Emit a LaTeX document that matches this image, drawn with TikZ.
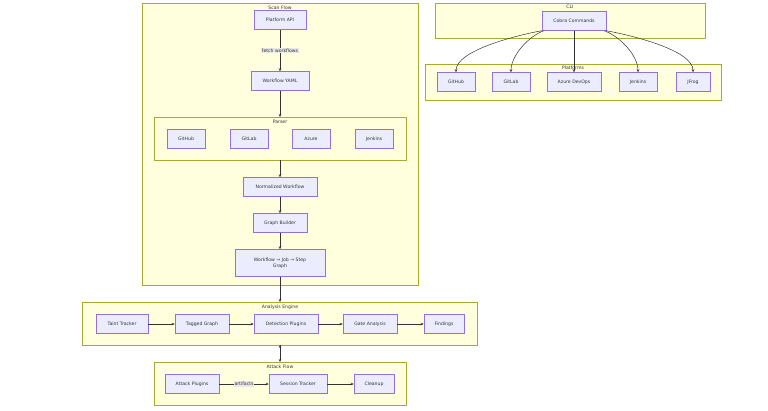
\documentclass[tikz,border=0pt]{standalone}
\usepackage{fontspec}
\setmainfont{DejaVu Sans}
\usetikzlibrary{arrows.meta,positioning}
\definecolor{grpfill}{HTML}{FFFFDE}
\definecolor{grpline}{HTML}{AAAA33}
\definecolor{boxfill}{HTML}{ECECFF}
\definecolor{boxline}{HTML}{9370DB}
\definecolor{edgecol}{HTML}{333333}
\definecolor{lblfill}{HTML}{E8E8E8}
\begin{document}
\begin{tikzpicture}[x=1pt,y=-1pt,>={Stealth[length=3pt,width=2.5pt]},
                    font=\fontsize{4.6}{5.6}\selectfont, text=edgecol,
                    grp/.style={draw=grpline, fill=grpfill, line width=0.5pt},
                    stepp/.style={rectangle, minimum height=19pt, inner sep=2pt, text centered, draw=boxline, fill=boxfill, line width=0.5pt},
                    lbl/.style={fill=lblfill, inner sep=1pt},
                    flow/.style={->, draw=edgecol, line width=0.5pt}]
        \useasboundingbox (0,0) rectangle (768,410);
        % groups
        \draw[grp] (142,3) rectangle (418,285);
        \node at (280,8) {Scan Flow};
        \draw[grp] (154,117) rectangle (406,160);
        \node at (280,122) {Parser};
        \draw[grp] (82,302) rectangle (477,345);
        \node at (280,307) {Analysis Engine};
        \draw[grp] (154,362) rectangle (406,405);
        \node at (280,367) {Attack Flow};
        \draw[grp] (435,3) rectangle (705,38);
        \node at (570,7) {CLI};
        \draw[grp] (425,64) rectangle (721,100);
        \node at (573,68) {Platforms};
        \coordinate (ParserTop) at (280,117);
        \coordinate (ParserBot) at (280,160);
        \coordinate (EngineTop) at (280,302);
        \coordinate (EngineBot) at (280,345);
        \coordinate (AttackTop) at (280,362);

        % scan flow
        \node (PlatformAPI) [stepp, minimum width=52pt] at (280,20) {Platform API};
        \node (WorkflowYAML) [stepp, minimum width=58pt] at (280,81) {Workflow YAML};
        \node (PGitHub) [stepp, minimum width=38pt] at (186,139) {GitHub};
        \node (PGitLab) [stepp, minimum width=38pt] at (249,139) {GitLab};
        \node (PAzure) [stepp, minimum width=38pt] at (311,139) {Azure};
        \node (PJenkins) [stepp, minimum width=38pt] at (374,139) {Jenkins};
        \node (Normalized) [stepp, minimum width=74pt] at (280,187) {Normalized Workflow};
        \node (Builder) [stepp, minimum width=54pt] at (280,223) {Graph Builder};
        \node (Graph) [stepp, minimum width=90pt, minimum height=27pt, align=center] at (280,263) {Workflow → Job → Step\\Graph};

        % analysis engine
        \node (Taint) [stepp, minimum width=52pt] at (122,324) {Taint Tracker};
        \node (Tagged) [stepp, minimum width=54pt] at (202,324) {Tagged Graph};
        \node (Detection) [stepp, minimum width=64pt] at (286,324) {Detection Plugins};
        \node (Gate) [stepp, minimum width=54pt] at (370,324) {Gate Analysis};
        \node (Findings) [stepp, minimum width=40pt] at (444,324) {Findings};

        % attack flow
        \node (AttackPlugins) [stepp, minimum width=54pt] at (192,384) {Attack Plugins};
        \node (Session) [stepp, minimum width=58pt] at (298,384) {Session Tracker};
        \node (Cleanup) [stepp, minimum width=40pt] at (374,384) {Cleanup};

        % cli and platforms
        \node (Cobra) [stepp, minimum width=64pt] at (574,21) {Cobra Commands};
        \node (GitHub) [stepp, minimum width=38pt] at (456,82) {GitHub};
        \node (GitLab) [stepp, minimum width=38pt] at (511,82) {GitLab};
        \node (AzureDevOps) [stepp, minimum width=54pt] at (574,82) {Azure DevOps};
        \node (Jenkins) [stepp, minimum width=38pt] at (638,82) {Jenkins};
        \node (JFrog) [stepp, minimum width=34pt] at (693,82) {JFrog};

        \path[flow]
        (PlatformAPI) edge node[lbl] {fetch workflows} (WorkflowYAML)
        (WorkflowYAML) edge (ParserTop)
        (ParserBot) edge (Normalized)
        (Normalized) edge (Builder)
        (Builder) edge (Graph)
        (Graph) edge (EngineTop)
        (EngineBot) edge (AttackTop)
        (Taint) edge (Tagged)
        (Tagged) edge (Detection)
        (Detection) edge (Gate)
        (Gate) edge (Findings)
        (AttackPlugins) edge node[lbl] {artifacts} (Session)
        (Session) edge (Cleanup)
        (Cobra) edge (AzureDevOps)
        ;
        \draw[flow] (Cobra.south west) to[out=190,in=90,looseness=0.6] (GitHub.north);
        \draw[flow] (Cobra.south west) ++(2,0) to[out=200,in=90,looseness=0.8] (GitLab.north);
        \draw[flow] (Cobra.south east) ++(-2,0) to[out=-20,in=90,looseness=0.8] (Jenkins.north);
        \draw[flow] (Cobra.south east) to[out=-10,in=90,looseness=0.6] (JFrog.north);
\end{tikzpicture}
\end{document}
